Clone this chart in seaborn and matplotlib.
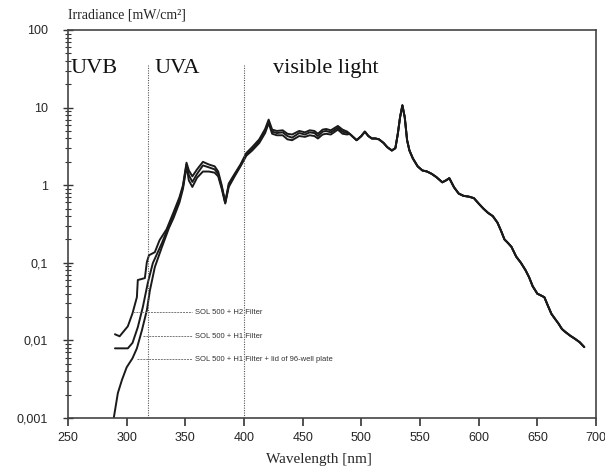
import numpy as np
import pandas as pd
import matplotlib
matplotlib.use("Agg")
import matplotlib.pyplot as plt
from matplotlib.ticker import FixedLocator, LogLocator, NullFormatter
import seaborn as sns

# ---------------- data ----------------
series_names = ["SOL 500 + H2 Filter", "SOL 500 + H1 Filter",
                "SOL 500 + H1 Filter + lid of 96-well plate"]

# UV onset, per series
wl_uv_h2 = [290, 294, 301, 305, 308.7, 309.5, 315.5, 317.2, 319, 324, 328, 334]
irr_uv_h2 = [0.012, 0.0113, 0.0152, 0.0224, 0.036, 0.06, 0.0635, 0.102, 0.125, 0.137, 0.195, 0.27]

wl_uv_h1 = [290, 301, 305, 309.5, 313.8, 318, 322.3, 330, 336]
irr_uv_h1 = [0.0079, 0.0079, 0.0093, 0.0148, 0.027, 0.055, 0.099, 0.179, 0.3]

wl_uv_lid = [289, 292.5, 296, 300, 305, 308.7, 313, 317.2, 319.8, 324, 330, 336]
irr_uv_lid = [0.001, 0.0021, 0.0031, 0.0045, 0.0059, 0.0079, 0.0135, 0.0245, 0.044, 0.088, 0.159, 0.28]

# UVA / blue region, slight differences between series
wl_mid = [340, 345, 348, 351, 353, 356, 360, 365, 370, 375, 378, 381, 384, 387,
          392, 397, 402, 407, 413, 418, 421, 424, 428, 433, 437, 441, 447, 452,
          456, 460, 463, 467, 470, 474, 480, 484, 488]
irr_mid_h2 = [0.45, 0.7, 1.0, 1.95, 1.55, 1.3, 1.6, 2.0, 1.85, 1.75, 1.5, 1.0, 0.6, 1.05,
              1.4, 1.85, 2.6, 3.1, 3.9, 5.3, 7.0, 5.2, 5.0, 5.1, 4.6, 4.5, 5.0, 4.8,
              5.1, 5.0, 4.6, 5.2, 5.3, 5.1, 5.8, 5.2, 4.9]
irr_mid_h1 = [0.42, 0.66, 0.95, 1.85, 1.35, 1.1, 1.4, 1.8, 1.7, 1.6, 1.4, 0.95, 0.6, 1.0,
              1.35, 1.8, 2.5, 2.9, 3.7, 5.0, 6.6, 4.9, 4.7, 4.8, 4.3, 4.1, 4.7, 4.5,
              4.8, 4.7, 4.3, 4.9, 5.0, 4.8, 5.5, 4.9, 4.7]
irr_mid_lid = [0.38, 0.6, 0.9, 1.75, 1.15, 0.95, 1.25, 1.5, 1.5, 1.45, 1.3, 0.9, 0.58, 0.95,
               1.3, 1.75, 2.4, 2.8, 3.5, 4.7, 6.3, 4.6, 4.4, 4.4, 3.9, 3.8, 4.3, 4.2,
               4.4, 4.3, 4.0, 4.5, 4.6, 4.5, 5.2, 4.6, 4.5]

# visible region, curves coincide
wl_vis = [490, 496, 500, 503, 506, 509, 512, 515, 519, 522, 526, 529, 531, 533, 535,
          537, 539, 541, 544, 548, 552, 556, 560, 564, 569, 572, 575, 579, 583, 587,
          592, 596, 600, 604, 608, 612, 616, 619, 622, 625, 628, 632, 636, 640, 643,
          646, 650, 653, 656, 659, 662, 665, 668, 671, 674, 678, 682, 686, 690]
irr_vis = [4.6, 3.8, 4.3, 4.9, 4.3, 4.0, 4.0, 3.9, 3.5, 3.1, 2.8, 3.0, 4.5, 7.5, 10.7,
           7.5, 3.8, 2.8, 2.2, 1.75, 1.55, 1.5, 1.4, 1.27, 1.09, 1.15, 1.23, 0.94, 0.78, 0.73,
           0.71, 0.68, 0.58, 0.5, 0.44, 0.4, 0.33, 0.26, 0.2, 0.18, 0.16, 0.12, 0.1, 0.08, 0.065,
           0.05, 0.04, 0.038, 0.036, 0.028, 0.022, 0.019, 0.0165, 0.014, 0.0128, 0.0115, 0.0105, 0.0095, 0.0082]

region_labels = ["UVB", "UVA", "visible light"]
region_label_x = [252, 324, 425]
boundaries = [318, 400]

label_pos_y = [0.0231, 0.0113, 0.00573]
label_start_x = [305, 314, 308.7]
label_text_x = 356

x_ticks = [250, 300, 350, 400, 450, 500, 550, 600, 650, 700]
y_ticks = [0.001, 0.01, 0.1, 1, 10, 100]
y_tick_labels = ["0,001", "0,01", "0,1", "1", "10", "100"]

# ---------------- build table ----------------
rows = []
parts = [
    (wl_uv_h2 + wl_mid + wl_vis, irr_uv_h2 + irr_mid_h2 + irr_vis),
    (wl_uv_h1 + wl_mid + wl_vis, irr_uv_h1 + irr_mid_h1 + irr_vis),
    (wl_uv_lid + wl_mid + wl_vis, irr_uv_lid + irr_mid_lid + irr_vis),
]
for name, (wl, irr) in zip(series_names, parts):
    for w, v in zip(wl, irr):
        rows.append({"series": name, "wl": w, "irr": v})
df = pd.DataFrame(rows)

# ---------------- plot ----------------
sns.set_style("white")
plt.rcParams["font.family"] = ["Liberation Sans", "DejaVu Sans"]

fig = plt.figure(figsize=(6.05, 4.75), dpi=100)
ax = fig.add_axes([68 / 605, 1 - 418 / 475, (596 - 68) / 605, (418 - 30) / 475])

for name in series_names:
    sns.lineplot(data=df[df["series"] == name], x="wl", y="irr", ax=ax,
                 color="#1a1a1a", linewidth=1.4, sort=False, estimator=None,
                 legend=False)

ax.set_yscale("log")
ax.set_xlim(250, 700)
ax.set_ylim(0.001, 100)

for b in boundaries:
    ax.plot([b, b], [0.001, 35], color="#555555", linestyle=(0, (1, 1.2)), linewidth=0.8)

serif = ["Liberation Serif", "DejaVu Serif"]
for t, x in zip(region_labels, region_label_x):
    ax.text(x, 28, t, fontsize=16, family=serif, ha="left", va="baseline", color="#111111")

for name, y, xs in zip(series_names, label_pos_y, label_start_x):
    ax.plot([xs, label_text_x], [y, y], color="#777777", linestyle=(0, (2, 1)), linewidth=0.7)
    ax.text(label_text_x + 2, y, name, fontsize=5.5, va="center", ha="left", color="#333333")

ax.xaxis.set_major_locator(FixedLocator(x_ticks))
ax.set_xticklabels([str(v) for v in x_ticks])
ax.yaxis.set_major_locator(FixedLocator(y_ticks))
ax.set_yticklabels(y_tick_labels)
ax.yaxis.set_minor_locator(LogLocator(base=10, subs=np.arange(2, 10)))
ax.yaxis.set_minor_formatter(NullFormatter())

ax.tick_params(axis="x", which="major", direction="out", length=6, width=1.2,
               color="#333333", labelsize=9, pad=4, bottom=True)
ax.tick_params(axis="y", which="major", direction="inout", length=7, width=1.0,
               color="#333333", labelsize=9, pad=11, left=True)
ax.tick_params(axis="y", which="minor", direction="inout", length=4, width=0.8,
               color="#333333", left=True)

for s in ax.spines.values():
    s.set_color("#444444")
    s.set_linewidth(1.2)
    s.set_visible(True)

ax.set_xlabel("")
ax.set_ylabel("")
fig.text(0.5 * (264 + 373) / 605, 1 - 459 / 475, "Wavelength [nm]", family=serif,
         fontsize=11, ha="center", va="center")
fig.text(68 / 605, 1 - 15 / 475, "Irradiance [mW/cm²]", family=serif,
         fontsize=10, ha="left", va="center")

fig.savefig("out.png", dpi=100)
